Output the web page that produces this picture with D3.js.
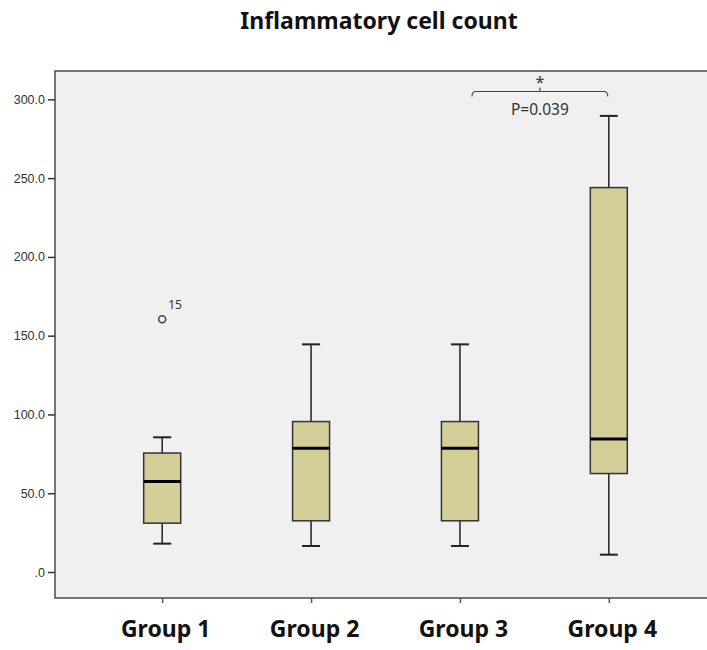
<!DOCTYPE html>
<html>
<head>
<meta charset="utf-8">
<script src="https://cdn.jsdelivr.net/npm/d3@7"></script>
<style>
  body { margin: 0; background: #fff; }
  svg { display: block; }
</style>
</head>
<body>
<div id="chart"></div>
<script>
var groups = ["Group 1", "Group 2", "Group 3", "Group 4"];
var whiskerLow  = [18, 16.5, 16.5, 11];
var boxLow      = [31, 32.5, 32.5, 62.5];
var medians     = [57.5, 78.5, 78.5, 84.5];
var boxHigh     = [75.5, 95.5, 95.5, 244];
var whiskerHigh = [85.5, 144.5, 144.5, 289.5];
var outliers    = [{ group: "Group 1", value: 160.5, label: "15" }];
var yTicks      = [0, 50, 100, 150, 200, 250, 300];
var yTickLabels = [".0", "50.0", "100.0", "150.0", "200.0", "250.0", "300.0"];
var sigPair     = ["Group 3", "Group 4"];
var sigLevel    = 305;
var sigText     = "P=0.039";

var w = 707, h = 650;
var pLeft = 55, pTop = 71, pBottom = 598, pRight = 716;

var svg = d3.select("#chart").append("svg")
  .attr("width", w)
  .attr("height", h);

var x = d3.scalePoint()
  .domain(groups)
  .range([pLeft, pRight])
  .padding(0.72);

var y = d3.scaleLinear()
  .domain([-16.5, 318])
  .range([pBottom, pTop]);

// plot background
svg.append("rect")
  .attr("x", pLeft)
  .attr("y", pTop)
  .attr("width", pRight - pLeft)
  .attr("height", pBottom - pTop)
  .attr("fill", "#f0f0f0")
  .attr("stroke", "#4a4a4a")
  .attr("stroke-width", 1.5);

svg.append("text")
  .attr("x", 379)
  .attr("y", 29)
  .attr("text-anchor", "middle")
  .attr("font-family", "Noto Sans")
  .attr("font-weight", "bold")
  .attr("font-size", 23)
  .attr("fill", "#111")
  .text("Inflammatory cell count");

// y axis
var yAxis = d3.axisLeft(y)
  .tickValues(yTicks)
  .tickSize(7)
  .tickFormat(function(d, i) { return yTickLabels[i]; });

var yg = svg.append("g")
  .attr("transform", "translate(" + pLeft + ",0)")
  .call(yAxis);
yg.select(".domain").remove();
yg.selectAll("line").attr("stroke", "#333").attr("stroke-width", 1.5);
yg.selectAll("text")
  .attr("font-family", "Liberation Sans")
  .attr("font-size", 12.5)
  .attr("fill", "#333")
  .attr("dx", 0);

// x axis
var xAxis = d3.axisBottom(x).tickSize(5).tickPadding(18);
var xg = svg.append("g")
  .attr("transform", "translate(0," + pBottom + ")")
  .call(xAxis);
xg.select(".domain").remove();
xg.selectAll("line").attr("stroke", "#555").attr("stroke-width", 1.5);
xg.selectAll("text")
  .attr("font-family", "Noto Sans")
  .attr("font-weight", "bold")
  .attr("font-size", 23)
  .attr("fill", "#111")
  .attr("dx", 3);

// boxes
var boxW = 37, capW = 18;
var boxes = svg.append("g").selectAll("g")
  .data(groups)
  .enter()
  .append("g");

boxes.append("line")
  .attr("x1", function(d) { return x(d); })
  .attr("x2", function(d) { return x(d); })
  .attr("y1", function(d, i) { return y(whiskerLow[i]); })
  .attr("y2", function(d, i) { return y(whiskerHigh[i]); })
  .attr("stroke", "#222")
  .attr("stroke-width", 1.5);

[whiskerLow, whiskerHigh].forEach(function(arr) {
  boxes.append("line")
    .attr("x1", function(d) { return x(d) - capW / 2; })
    .attr("x2", function(d) { return x(d) + capW / 2; })
    .attr("y1", function(d, i) { return y(arr[i]); })
    .attr("y2", function(d, i) { return y(arr[i]); })
    .attr("stroke", "#222")
    .attr("stroke-width", 2);
});

boxes.append("rect")
  .attr("x", function(d) { return x(d) - boxW / 2; })
  .attr("width", boxW)
  .attr("y", function(d, i) { return y(boxHigh[i]); })
  .attr("height", function(d, i) { return y(boxLow[i]) - y(boxHigh[i]); })
  .attr("fill", "#d4cf99")
  .attr("stroke", "#333")
  .attr("stroke-width", 1.5);

boxes.append("line")
  .attr("x1", function(d) { return x(d) - boxW / 2; })
  .attr("x2", function(d) { return x(d) + boxW / 2; })
  .attr("y1", function(d, i) { return y(medians[i]); })
  .attr("y2", function(d, i) { return y(medians[i]); })
  .attr("stroke", "#000")
  .attr("stroke-width", 3);

// outliers
svg.append("g").selectAll("circle")
  .data(outliers)
  .enter()
  .append("circle")
  .attr("cx", function(d) { return x(d.group); })
  .attr("cy", function(d) { return y(d.value); })
  .attr("r", 3.5)
  .attr("fill", "none")
  .attr("stroke", "#444")
  .attr("stroke-width", 1.5);

svg.append("g").selectAll("text")
  .data(outliers)
  .enter()
  .append("text")
  .attr("x", function(d) { return x(d.group) + 6; })
  .attr("y", function(d) { return y(d.value) - 10; })
  .attr("font-family", "Noto Sans")
  .attr("font-size", 12)
  .attr("fill", "#333")
  .text(function(d) { return d.label; });

// significance bracket
var bx1 = x(sigPair[0]) + 12, bx2 = x(sigPair[1]) - 1;
var by = y(sigLevel);
var bmid = (bx1 + bx2) / 2;
svg.append("path")
  .attr("d", "M" + bx1 + "," + (by + 5) + "Q" + bx1 + "," + by + " " + (bx1 + 4) + "," + by +
             "L" + (bx2 - 4) + "," + by + "Q" + bx2 + "," + by + " " + bx2 + "," + (by + 5))
  .attr("fill", "none")
  .attr("stroke", "#444")
  .attr("stroke-width", 1.2);
svg.append("line")
  .attr("x1", bmid).attr("x2", bmid)
  .attr("y1", by).attr("y2", by - 4)
  .attr("stroke", "#444")
  .attr("stroke-width", 1.2);
svg.append("text")
  .attr("x", bmid)
  .attr("y", by - 3)
  .attr("text-anchor", "middle")
  .attr("font-family", "Noto Sans")
  .attr("font-size", 16)
  .attr("fill", "#333")
  .text("*");
svg.append("text")
  .attr("x", bmid)
  .attr("y", by + 24)
  .attr("text-anchor", "middle")
  .attr("font-family", "Noto Sans")
  .attr("font-size", 15.5)
  .attr("fill", "#333")
  .text(sigText);
</script>
</body>
</html>
